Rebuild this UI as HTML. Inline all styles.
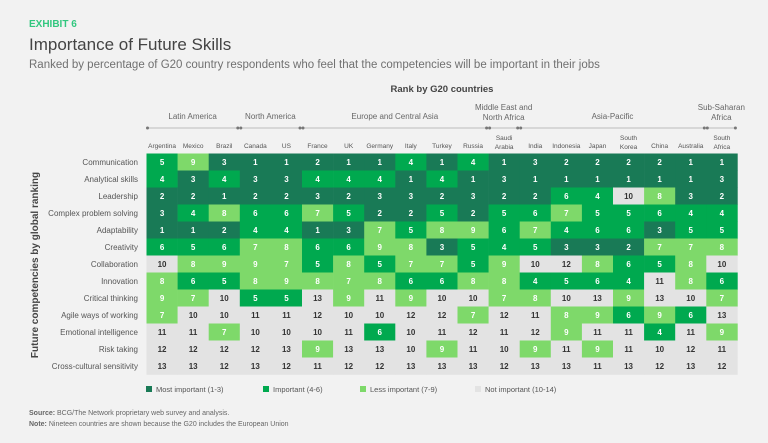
<!DOCTYPE html>
<html><head><meta charset="utf-8"><style>
html,body{margin:0;padding:0;background:#f2f2f2;}
svg{display:block;font-family:"Liberation Sans",sans-serif;}
</style></head><body>
<svg id="chart" width="768" height="443" viewBox="0 0 768 443">
<rect width="768" height="443" fill="#f2f2f2"/>
<text x="29" y="27" font-size="10" font-weight="bold" fill="#32c77f">EXHIBIT 6</text>
<text x="29" y="50" font-size="17" fill="#444">Importance of Future Skills</text>
<text x="29" y="68" font-size="11.5" fill="#707070">Ranked by percentage of G20 country respondents who feel that the competencies will be important in their jobs</text>
<text x="442" y="92" font-size="9.5" font-weight="bold" fill="#444" text-anchor="middle">Rank by G20 countries</text>
<text transform="translate(38,265) rotate(-90)" font-size="10" font-weight="bold" fill="#444" text-anchor="middle">Future competencies by global ranking</text>
<g id="regions"></g>
<g id="cols"></g>
<g id="rows"></g>
<g id="cells"></g>
<g id="legend"></g>
<text x="29" y="415" font-size="7" fill="#666"><tspan font-weight="bold">Source:</tspan> BCG/The Network proprietary web survey and analysis.</text>
<text x="29" y="426" font-size="7" fill="#666"><tspan font-weight="bold">Note:</tspan> Nineteen countries are shown because the G20 includes the European Union</text>
</svg>
<script>
const countries=[["Argentina"],["Mexico"],["Brazil"],["Canada"],["US"],["France"],["UK"],["Germany"],["Italy"],["Turkey"],["Russia"],["Saudi","Arabia"],["India"],["Indonesia"],["Japan"],["South","Korea"],["China"],["Australia"],["South","Africa"]];
const skills=["Communication","Analytical skills","Leadership","Complex problem solving","Adaptability","Creativity","Collaboration","Innovation","Critical thinking","Agile ways of working","Emotional intelligence","Risk taking","Cross-cultural sensitivity"];
const ranks=[
[5,9,3,1,1,2,1,1,4,1,4,1,3,2,2,2,2,1,1],
[4,3,4,3,3,4,4,4,1,4,1,3,1,1,1,1,1,1,3],
[2,2,1,2,2,3,2,3,3,2,3,2,2,6,4,10,8,3,2],
[3,4,8,6,6,7,5,2,2,5,2,5,6,7,5,5,6,4,4],
[1,1,2,4,4,1,3,7,5,8,9,6,7,4,6,6,3,5,5],
[6,5,6,7,8,6,6,9,8,3,5,4,5,3,3,2,7,7,8],
[10,8,9,9,7,5,8,5,7,7,5,9,10,12,8,6,5,8,10],
[8,6,5,8,9,8,7,8,6,6,8,8,4,5,6,4,11,8,6],
[9,7,10,5,5,13,9,11,9,10,10,7,8,10,13,9,13,10,7],
[7,10,10,11,11,12,10,10,12,12,7,12,11,8,9,6,9,6,13],
[11,11,7,10,10,10,11,6,10,11,12,11,12,9,11,11,4,11,9],
[12,12,12,12,13,9,13,13,10,9,11,10,9,11,9,11,10,12,11],
[13,13,12,13,12,11,12,12,13,13,13,12,13,13,11,13,12,13,12]];
const regionNames=[["Latin America"],["North America"],["Europe and Central Asia"],["Middle East and","North Africa"],["Asia-Pacific"],["Sub-Saharan","Africa"]];
const regionStart=[0,3,5,11,12,18];
const regionEnd=[2,4,10,11,17,18];
const legendLabels=["Most important (1-3)","Important (4-6)","Less important (7-9)","Not important (10-14)"];

const NS="http://www.w3.org/2000/svg";
const X0=146.5,CW=31.1,Y0=153.5,RH=17;
const xs=i=>X0+i*CW, ys=j=>Y0+j*RH;
const colors=["#197a56","#00a94f","#7ed96a","#e3e3e3"];
const cat=v=>v<=3?0:v<=6?1:v<=9?2:3;
function mk(tag,parent,attrs){const e=document.createElementNS(NS,tag);for(const k in attrs)e.setAttribute(k,attrs[k]);parent.appendChild(e);return e;}

const gR=document.getElementById('regions');
regionNames.forEach((r,k)=>{
  const x1=xs(regionStart[k])+1,x2=xs(regionEnd[k]+1)-2,cx=(x1+x2)/2;
  const t=mk('text',gR,{x:cx,y:r.length>1?110:119,'font-size':8,fill:'#666','text-anchor':'middle'});
  
  
  r.forEach((s,i)=>{const ts=mk('tspan',t,{x:cx,dy:i?10:0});ts.textContent=s;});
  const l=mk('line',gR,{x1:x1,x2:x2,y1:128,y2:128,stroke:'#aaa','stroke-width':0.8});
  
  
  [x1,x2].forEach(x=>{const c=mk('circle',gR,{cx:x,cy:128,r:1.5,fill:'#777'});});
});
const gC=document.getElementById('cols');
countries.forEach((c,i)=>{
  const cx=xs(i)+CW/2;
  const t=mk('text',gC,{x:cx,y:c.length>1?140:148,'font-size':6.5,fill:'#555','text-anchor':'middle'});
  
  
  c.forEach((s,k)=>{const ts=mk('tspan',t,{x:cx,dy:k?9:0});ts.textContent=s;});
});
const gRows=document.getElementById('rows');
skills.forEach((s,j)=>{
  const t=mk('text',gRows,{x:138,y:ys(j)+RH/2+3,'font-size':8,fill:'#555','text-anchor':'end'});
  
  
  t.textContent=s;
});
const gCells=document.getElementById('cells');
ranks.forEach((row,j)=>row.forEach((v,i)=>{
  const c=cat(v);
  const r=mk('rect',gCells,{x:xs(i),y:ys(j),width:CW+0.3,height:RH+0.3,fill:colors[c]});
  
  
  const t=mk('text',gCells,{x:xs(i)+CW/2,y:ys(j)+RH/2+3,'font-size':8,'font-weight':'bold',fill:c===3?'#333':'#fff','text-anchor':'middle'});
  
  
  t.textContent=v;
}));
const gL=document.getElementById('legend');
const lx=[146,263,360,475];
legendLabels.forEach((s,k)=>{
  const r=mk('rect',gL,{x:lx[k],y:386,width:6,height:6,fill:colors[k]});
  
  
  const t=mk('text',gL,{x:lx[k]+10,y:392,'font-size':7.5,fill:'#555'});
  
  
  t.textContent=s;
});
</script>
</body></html>
